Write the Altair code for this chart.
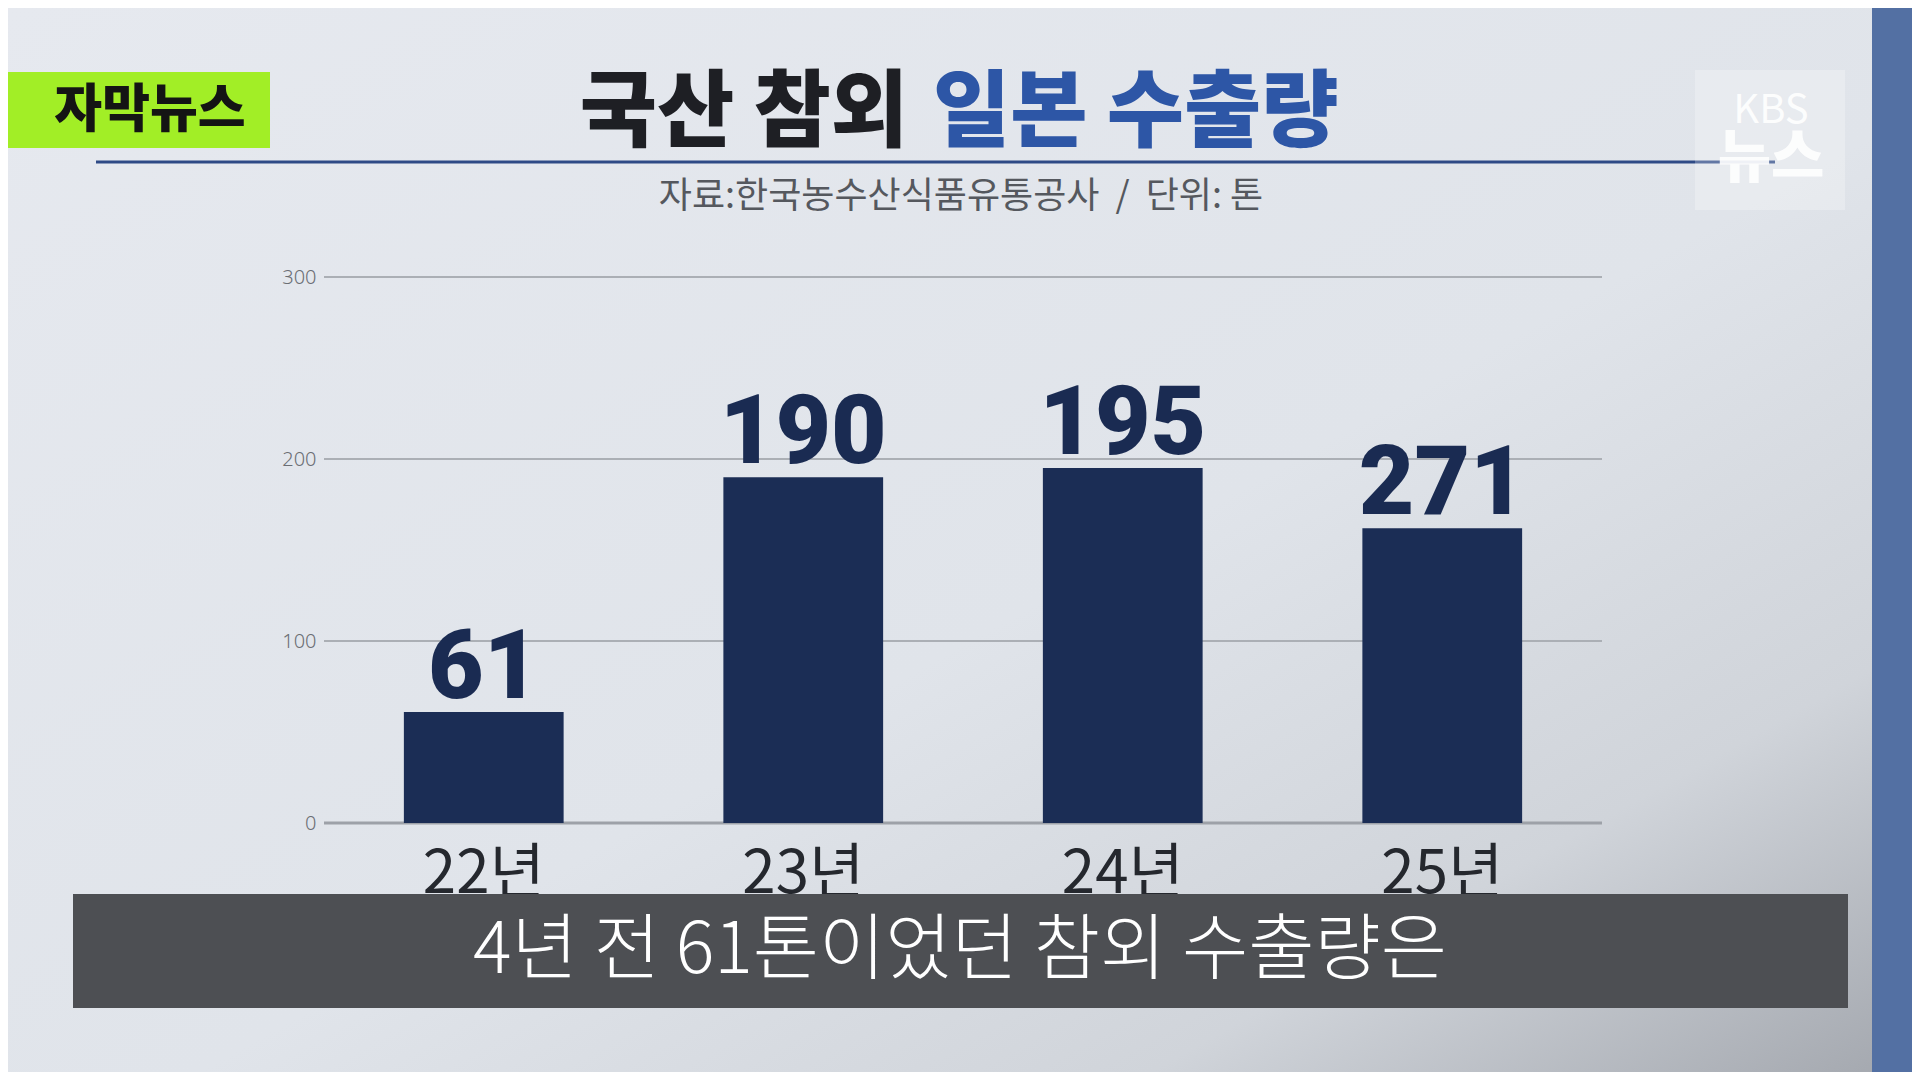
import altair as alt
import pandas as pd

# ---- data ----
years = ["22년", "23년", "24년", "25년"]
bar_values = [61, 190, 195, 162]          # bar heights as drawn
bar_labels = ["61", "190", "195", "271"]  # numbers printed above the bars
y_ticks = [0, 100, 200, 300]

title_dark = "국산 참외"
title_blue = "일본 수출량"
subtitle = "자료:한국농수산식품유통공사\u00a0\u00a0/\u00a0\u00a0단위: 톤"
badge_text = "자막뉴스"
caption = "4년 전 61톤이었던 참외 수출량은"
logo_top = "KBS"
logo_bottom = "뉴스"

df = pd.DataFrame({"year": years, "value": bar_values, "label": bar_labels})
grid_df = pd.DataFrame({"tick": y_ticks, "base": [t == 0 for t in y_ticks]})
one = pd.DataFrame({"a": [0]})

W, H = 1278, 546
KR = "Noto Sans CJK KR"
NAVY = "#1b2d55"

xs = alt.X("year:N", sort=years, axis=None,
           scale=alt.Scale(paddingInner=0.5, paddingOuter=0.25))

# background gradient covering the whole canvas
bg = alt.Chart(one).mark_rect(
    fill=alt.Gradient(
        gradient="linear", x1=0, y1=0, x2=1, y2=1,
        stops=[alt.GradientStop(color="#e6e9ef", offset=0),
               alt.GradientStop(color="#e0e4ea", offset=0.55),
               alt.GradientStop(color="#d0d4da", offset=0.8),
               alt.GradientStop(color="#a3a7ae", offset=1)]),
).encode(x=alt.value(-316), x2=alt.value(1588), y=alt.value(-269), y2=alt.value(795))

strip = alt.Chart(one).mark_rect(fill="#5370a3").encode(
    x=alt.value(1548), x2=alt.value(1588), y=alt.value(-269), y2=alt.value(795))

grid = alt.Chart(grid_df).mark_rule().encode(
    x=alt.value(0), x2=alt.value(W),
    y=alt.Y("tick:Q"),
    color=alt.condition("datum.base", alt.value("#9da1a8"), alt.value("#abafb5")),
    strokeWidth=alt.condition("datum.base", alt.value(3), alt.value(2)),
)

bars = alt.Chart(df).mark_bar(color=NAVY).encode(
    x=xs,
    y=alt.Y("value:Q", scale=alt.Scale(domain=[0, 300], nice=False),
            axis=alt.Axis(values=y_ticks, title=None, domain=False, ticks=False,
                          grid=False, labelFont="Noto Sans", labelFontWeight=300,
                          labelFontSize=20, labelColor="#6b6e74", labelPadding=8,
                          zindex=1)),
)

bar_text = alt.Chart(df).mark_text(
    font="Roboto", fontWeight=900, fontSize=96, color="#1a2b52",
    baseline="alphabetic", dy=-14, align="center",
).encode(x=xs, y="value:Q", text="label:N")

x_text = alt.Chart(df).mark_text(
    font=KR, fontWeight=400, fontSize=60, color="#25282e",
    baseline="alphabetic", align="center",
).encode(x=xs, y=alt.value(616), text="year:N")

cap_box = alt.Chart(one).mark_rect(fill="#4d4f53").encode(
    x=alt.value(-251), x2=alt.value(1524), y=alt.value(617), y2=alt.value(731))
cap_text = alt.Chart(pd.DataFrame({"t": [caption]})).mark_text(
    font=KR, fontWeight=300, fontSize=72, color="white",
    baseline="middle", align="center",
).encode(x=alt.value(636), y=alt.value(674), text="t:N")

badge = alt.Chart(one).mark_rect(fill="#a2ee26").encode(
    x=alt.value(-316), x2=alt.value(-54), y=alt.value(-205), y2=alt.value(-129))
badge_t = alt.Chart(pd.DataFrame({"t": [badge_text]})).mark_text(
    font=KR, fontWeight=900, fontSize=52, color="#141414",
    baseline="middle", align="center",
).encode(x=alt.value(-174), y=alt.value(-166), text="t:N")

title_d = alt.Chart(pd.DataFrame({"t": [title_dark]})).mark_text(
    font=KR, fontWeight=900, fontSize=84, color="#1e1f24",
    baseline="middle", align="right",
).encode(x=alt.value(584), y=alt.value(-162), text="t:N")
title_b = alt.Chart(pd.DataFrame({"t": [title_blue]})).mark_text(
    font=KR, fontWeight=900, fontSize=84, color="#2d56a6",
    baseline="middle", align="left",
).encode(x=alt.value(609), y=alt.value(-162), text="t:N")

underline = alt.Chart(one).mark_rule(color="#2e4a86", strokeWidth=3).encode(
    x=alt.value(-228), x2=alt.value(1451), y=alt.value(-115))

sub = alt.Chart(pd.DataFrame({"t": [subtitle]})).mark_text(
    font=KR, fontWeight=400, fontSize=36, color="#55585e",
    baseline="middle", align="center",
).encode(x=alt.value(637), y=alt.value(-80), text="t:N")

logo_box = alt.Chart(one).mark_rect(fill="white", opacity=0.25).encode(
    x=alt.value(1371), x2=alt.value(1521), y=alt.value(-207), y2=alt.value(-67))
logo_t1 = alt.Chart(pd.DataFrame({"t": [logo_top]})).mark_text(
    font=KR, fontWeight=400, fontSize=40, color="white", opacity=0.9,
    baseline="middle", align="center",
).encode(x=alt.value(1447), y=alt.value(-166), text="t:N")
logo_t2 = alt.Chart(pd.DataFrame({"t": [logo_bottom]})).mark_text(
    font=KR, fontWeight=900, fontSize=58, color="white", opacity=0.9,
    baseline="middle", align="center",
).encode(x=alt.value(1447), y=alt.value(-117), text="t:N")

chart = alt.layer(
    bg, strip, grid, bars, bar_text, x_text, cap_box, cap_text,
    badge, badge_t, title_d, title_b, underline, sub,
    logo_box, logo_t1, logo_t2,
).properties(
    width=W, height=H,
    autosize=alt.AutoSizeParams(type="none"),
    padding={"left": 316, "top": 269, "right": 310, "bottom": 249},
).configure_view(stroke=None).configure(background="#e4e7ed")

chart.save("out.html", embed_options={"renderer": "svg", "actions": False})
